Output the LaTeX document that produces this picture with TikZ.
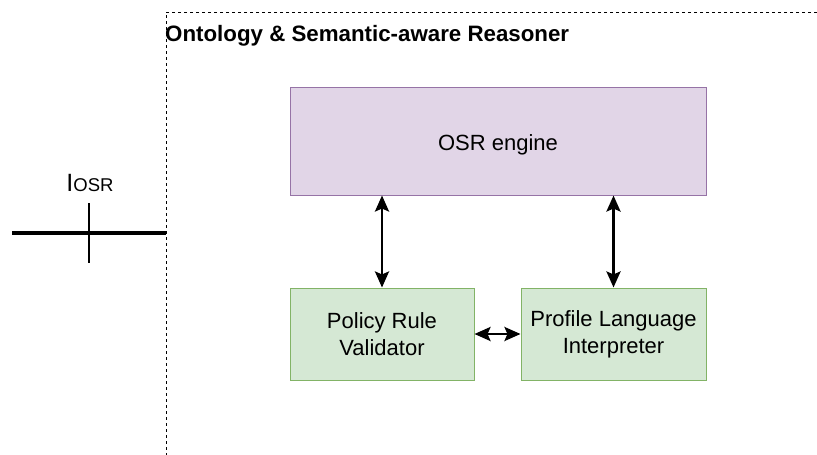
\documentclass[tikz,border=0pt]{standalone}
\usepackage{fontspec}
\setmainfont{Liberation Sans}
\usetikzlibrary{arrows.meta}
\begin{document}
\begin{tikzpicture}[x=1pt,y=-1pt,
  purplebox/.style={draw={rgb,255:red,150;green,115;blue,166}, fill={rgb,255:red,225;green,213;blue,231}, line width=1pt, inner sep=0pt},
  greenbox/.style={draw={rgb,255:red,130;green,179;blue,102}, fill={rgb,255:red,213;green,232;blue,212}, line width=1pt, inner sep=0pt, align=center},
  bodytext/.style={font=\fontsize{22}{27}\selectfont},
  link/.style={line width=2.8pt, {Stealth[length=16pt,width=14pt,inset=3pt]}-{Stealth[length=16pt,width=14pt,inset=3pt]}},
  boundary/.style={line width=0.9pt, dash pattern=on 3pt off 3pt}
]
\useasboundingbox (0,0) rectangle (817,455);

% dashed boundary of the reasoner
\coordinate (bTop) at (166,12);
\coordinate (bRight) at (817,12);
\coordinate (bBottom) at (166,455);
\draw[boundary] (bRight) -- (bTop) -- (bBottom);

\node[anchor=west, inner sep=0pt, font=\bfseries\fontsize{22.3}{26}\selectfont] (title) at (165,35.5) {Ontology \& Semantic-aware Reasoner};

% components
\node[purplebox, minimum width=416pt, minimum height=108pt,
      label={[bodytext, yshift=-3.5pt]center:OSR engine}] (osr) at (498,141) {};
\node[greenbox, bodytext, minimum width=184pt, minimum height=92pt] (prv) at (382,334) {Policy Rule\\Validator};
\node[greenbox, bodytext, minimum width=185pt, minimum height=92pt] (pli) at (613.5,334) {Profile Language\\Interpreter};

% connectors
\draw[link] (osr.south -| prv.north) -- (prv.north);
\draw[link] (osr.south -| pli.north) -- (pli.north);
\draw[link] (prv.east) -- (pli.east -| pli.west);

% interface I_OSR
\coordinate (ifL) at (12,233);
\coordinate (ifR) at (166,233);
\coordinate (tickT) at (89,203);
\coordinate (tickB) at (89,263);
\draw[line width=3.2pt] (ifL) -- (ifR);
\draw[line width=2.6pt] (tickT) -- (tickB);
\node[anchor=base, inner sep=0pt] (iosr) at (90,191) {\fontsize{25}{28}\selectfont I\fontsize{18.5}{20}\selectfont OSR};
\end{tikzpicture}
\end{document}
